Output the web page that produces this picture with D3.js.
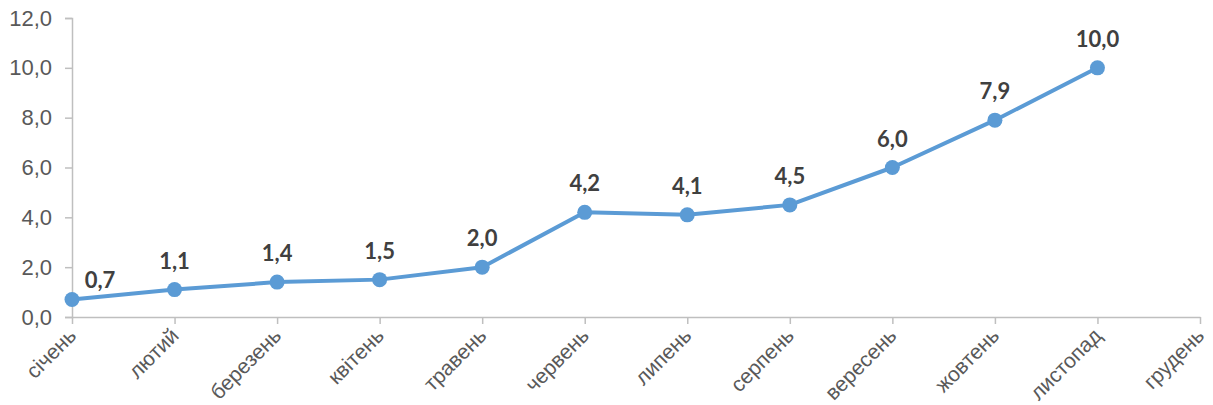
<!DOCTYPE html>
<html>
<head>
<meta charset="utf-8">
<script src="https://cdn.jsdelivr.net/npm/d3@7"></script>
<style>
  body { margin: 0; background: #fff; }
  svg { display: block; font-family: Lato, "Open Sans", sans-serif; }
</style>
</head>
<body>
<div id="chart"></div>
<script>
// дані з графіка
const months = ['січень', 'лютий', 'березень', 'квітень', 'травень', 'червень',
    'липень', 'серпень', 'вересень', 'жовтень', 'листопад', 'грудень'];
const values = [0.7, 1.1, 1.4, 1.5, 2.0, 4.2, 4.1, 4.5, 6.0, 7.9, 10.0];
const yTicks = [0, 2, 4, 6, 8, 10, 12];

const width = 1213, height = 405;
const margin = { top: 18, right: 13, bottom: 88, left: 72 };

const svg = d3.select('#chart').append('svg')
    .attr('width', width)
    .attr('height', height);

const x = d3.scalePoint()
    .domain(months)
    .range([margin.left, width - margin.right]);

const y = d3.scaleLinear()
    .domain([0, 12])
    .range([height - margin.bottom, margin.top]);

const fmt = v => d3.format('.1f')(v).replace('.', ',');

// вісь Y
const yAxis = svg.append('g')
    .attr('transform', `translate(${margin.left},0)`)
    .call(d3.axisLeft(y).tickValues(yTicks).tickFormat(fmt).tickSize(7).tickPadding(13));
yAxis.select('.domain').attr('stroke', '#bfbfbf').attr('stroke-width', 1.5);
yAxis.selectAll('.tick line').attr('stroke', '#bfbfbf').attr('stroke-width', 1.5);
yAxis.selectAll('.tick text')
    .attr('fill', '#595959')
    .attr('font-size', '22px');

// вісь X
const xAxis = svg.append('g')
    .attr('transform', `translate(0,${y(0)})`)
    .call(d3.axisBottom(x).tickSize(7).tickSizeOuter(0));
xAxis.select('.domain').attr('stroke', '#bfbfbf').attr('stroke-width', 1.5);
xAxis.selectAll('.tick line').attr('stroke', '#bfbfbf').attr('stroke-width', 1.5);
xAxis.selectAll('.tick text')
    .attr('fill', '#595959')
    .attr('font-size', '21px')
    .attr('text-anchor', 'end')
    .attr('dy', null)
    .attr('y', 0)
    .attr('transform', 'translate(5,20) rotate(-45)');

// лінія
const line = d3.line()
    .x((d, i) => x(months[i]))
    .y(d => y(d));

svg.append('path')
    .datum(values)
    .attr('fill', 'none')
    .attr('stroke', '#5b9bd5')
    .attr('stroke-width', 4)
    .attr('stroke-linejoin', 'round')
    .attr('d', line);

svg.selectAll('circle.point')
    .data(values)
    .enter()
    .append('circle')
    .attr('class', 'point')
    .attr('cx', (d, i) => x(months[i]))
    .attr('cy', d => y(d))
    .attr('r', 7.5)
    .attr('fill', '#5b9bd5');

// підписи даних
svg.selectAll('text.label')
    .data(values)
    .enter()
    .append('text')
    .attr('class', 'label')
    .attr('x', (d, i) => x(months[i]) + (i === 0 ? 28 : 0))
    .attr('y', (d, i) => y(d) - (i === 0 ? 12 : 21))
    .attr('text-anchor', 'middle')
    .attr('fill', '#404040')
    .attr('font-weight', 'bold')
    .attr('font-size', '22px')
    .text(d => fmt(d));
</script>
</body>
</html>
